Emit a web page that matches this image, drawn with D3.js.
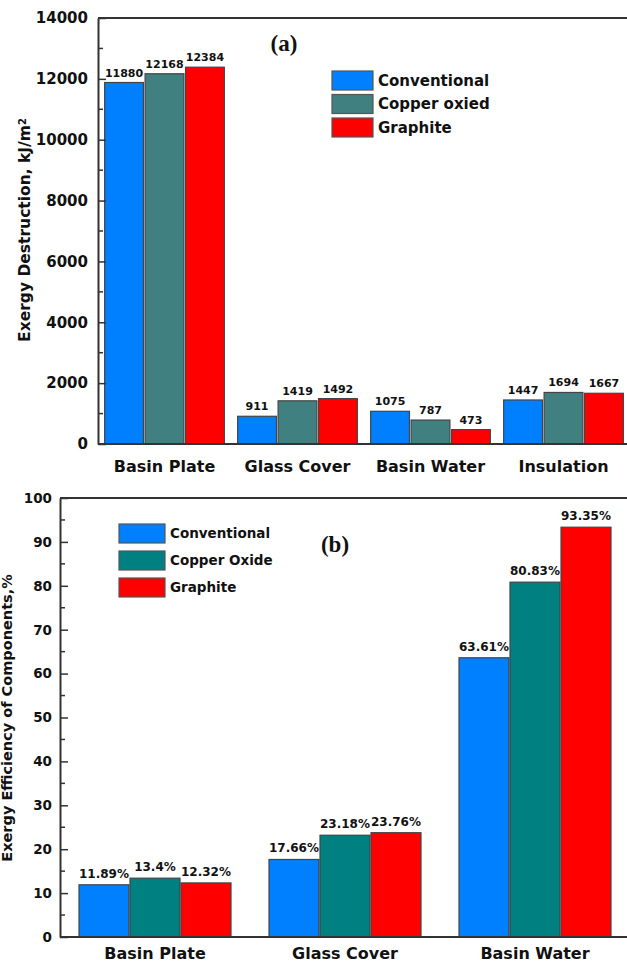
<!DOCTYPE html>
<html>
<head>
<meta charset="utf-8">
<script src="https://cdn.jsdelivr.net/npm/d3@7"></script>
<style>
  html, body { margin: 0; padding: 0; background: #fff; }
  svg { display: block; }
  text { font-family: "DejaVu Sans", Arial, sans-serif; font-weight: bold; fill: #111; }
</style>
</head>
<body>
<svg id="fig" width="627" height="964"></svg>
<script>
// ---- (a) exergy destruction ----
const destCategories = ["Basin Plate", "Glass Cover", "Basin Water", "Insulation"];
const destSeries = ["Conventional", "Copper oxied", "Graphite"];
const destConventional = [11880, 911, 1075, 1447];
const destCopper = [12168, 1419, 787, 1694];
const destGraphite = [12384, 1492, 473, 1667];
const destTicks = [0, 2000, 4000, 6000, 8000, 10000, 12000, 14000];

// ---- (b) exergy efficiency ----
const effCategories = ["Basin Plate", "Glass Cover", "Basin Water"];
const effSeries = ["Conventional", "Copper Oxide", "Graphite"];
const effConventional = [11.89, 17.66, 63.61];
const effCopper = [13.4, 23.18, 80.83];
const effGraphite = [12.32, 23.76, 93.35];
const effLabels = [["11.89%", "17.66%", "63.61%"], ["13.4%", "23.18%", "80.83%"], ["12.32%", "23.76%", "93.35%"]];
const effTicks = [0, 10, 20, 30, 40, 50, 60, 70, 80, 90, 100];

const svg = d3.select("#fig");
const axisColor = "#333";

function drawPanel(cfg) {
  const g = svg.append("g");
  const x0 = d3.scaleBand().domain(cfg.categories).range([cfg.left, cfg.right])
    .paddingInner(cfg.padInner).paddingOuter(cfg.padOuter);
  const x1 = d3.scaleBand().domain(d3.range(3)).range([0, x0.bandwidth()]).paddingInner(cfg.subPad);
  const y = d3.scaleLinear().domain(cfg.domain).range([cfg.bottom, cfg.top]);

  // grouped bars with value labels
  cfg.values.forEach((vals, si) => {
    g.selectAll(null).data(vals).enter().append("rect")
      .attr("x", (d, i) => x0(cfg.categories[i]) + x1(si))
      .attr("y", d => y(d))
      .attr("width", x1.bandwidth())
      .attr("height", d => y(0) - y(d))
      .attr("fill", cfg.colors[si])
      .attr("stroke", "#444")
      .attr("stroke-width", 1.2);
    g.selectAll(null).data(vals).enter().append("text")
      .attr("x", (d, i) => x0(cfg.categories[i]) + x1(si) + x1.bandwidth() / 2)
      .attr("y", d => y(d) - cfg.labelGap)
      .attr("text-anchor", "middle")
      .style("font-size", cfg.valueFont + "px")
      .text((d, i) => cfg.labels ? cfg.labels[si][i] : d);
  });

  // frame: top line and x-axis baseline
  g.append("line").attr("x1", cfg.left).attr("x2", 627).attr("y1", cfg.top).attr("y2", cfg.top)
    .attr("stroke", axisColor).attr("stroke-width", 2);
  g.append("line").attr("x1", cfg.left).attr("x2", 627).attr("y1", cfg.bottom).attr("y2", cfg.bottom)
    .attr("stroke", axisColor).attr("stroke-width", 2);

  // y axis with inward ticks
  const yAxis = d3.axisLeft(y).tickValues(cfg.ticks).tickSizeInner(-8).tickSizeOuter(0)
    .tickPadding(cfg.tickPad).tickFormat(d3.format("d"));
  const ya = g.append("g").attr("transform", `translate(${cfg.left},0)`).call(yAxis);
  ya.select(".domain").attr("stroke", axisColor).attr("stroke-width", 2);
  ya.selectAll(".tick line").attr("stroke", axisColor).attr("stroke-width", 1.5);
  ya.selectAll(".tick text").style("font-size", cfg.tickFont + "px")
    .style("font-family", "'DejaVu Sans', Arial, sans-serif")
    .style("font-weight", "bold").attr("fill", "#111");
  // minor ticks halfway between major ones
  const step = cfg.ticks[1] - cfg.ticks[0];
  const minor = cfg.ticks.slice(0, -1).map(t => t + step / 2);
  g.selectAll(null).data(minor).enter().append("line")
    .attr("x1", cfg.left).attr("x2", cfg.left + 5)
    .attr("y1", d => y(d)).attr("y2", d => y(d))
    .attr("stroke", axisColor).attr("stroke-width", 1.5);

  // category labels
  g.selectAll(null).data(cfg.categories).enter().append("text")
    .attr("x", d => x0(d) + x0.bandwidth() / 2)
    .attr("y", cfg.bottom + cfg.catOffset)
    .attr("text-anchor", "middle")
    .style("font-size", cfg.catFont + "px")
    .text(d => d);

  // y-axis title
  const title = g.append("text")
    .attr("transform", `translate(${cfg.titleX},${cfg.titleY}) rotate(-90)`)
    .attr("text-anchor", "middle")
    .style("font-size", cfg.titleFont + "px");
  cfg.title(title);

  // panel tag
  g.append("text").attr("x", cfg.tag[0]).attr("y", cfg.tag[1]).attr("text-anchor", "middle")
    .style("font-family", "'Liberation Serif', 'Times New Roman', serif").style("font-size", "23px")
    .text(cfg.tagText);

  // legend
  const lg = g.append("g");
  cfg.series.forEach((s, i) => {
    const yy = cfg.legend.y + i * cfg.legend.dy;
    lg.append("rect").attr("x", cfg.legend.x).attr("y", yy)
      .attr("width", cfg.legend.w).attr("height", cfg.legend.h)
      .attr("fill", cfg.colors[i]).attr("stroke", "#555").attr("stroke-width", 1.2);
    lg.append("text").attr("x", cfg.legend.x + cfg.legend.w + 5).attr("y", yy + cfg.legend.h / 2)
      .attr("dy", "0.36em").style("font-size", cfg.legend.font + "px").text(s);
  });
}

drawPanel({
  categories: destCategories, series: destSeries,
  values: [destConventional, destCopper, destGraphite],
  colors: ["#0080ff", "#408080", "#ff0000"],
  left: 98, right: 630, top: 18, bottom: 444,
  padInner: 0.1, padOuter: 0.05, subPad: 0.04,
  domain: [0, 14000], ticks: destTicks, tickPad: 10,
  labelGap: 6, valueFont: 11, tickFont: 15, catFont: 16, catOffset: 28,
  titleX: 30, titleY: 230, titleFont: 15.5,
  title: t => {
    t.append("tspan").text("Exergy Destruction, kJ/m");
    t.append("tspan").attr("dy", "-0.45em").style("font-size", "10px").text("2");
  },
  tag: [284, 51], tagText: "(a)",
  legend: { x: 332, y: 71, dy: 23.5, w: 41, h: 19, font: 15 }
});

drawPanel({
  categories: effCategories, series: effSeries,
  values: [effConventional, effCopper, effGraphite], labels: effLabels,
  colors: ["#0080ff", "#008080", "#ff0000"],
  left: 60, right: 630, top: 498, bottom: 937,
  padInner: 0.2, padOuter: 0.1, subPad: 0.02,
  domain: [0, 100], ticks: effTicks, tickPad: 8,
  labelGap: 7, valueFont: 12, tickFont: 13.5, catFont: 16, catOffset: 22,
  titleX: 12, titleY: 718, titleFont: 14.5,
  title: t => t.text("Exergy Efficiency of Components,%"),
  tag: [335, 552], tagText: "(b)",
  legend: { x: 119, y: 524, dy: 27, w: 46, h: 19, font: 13.5 }
});
</script>
</body>
</html>
